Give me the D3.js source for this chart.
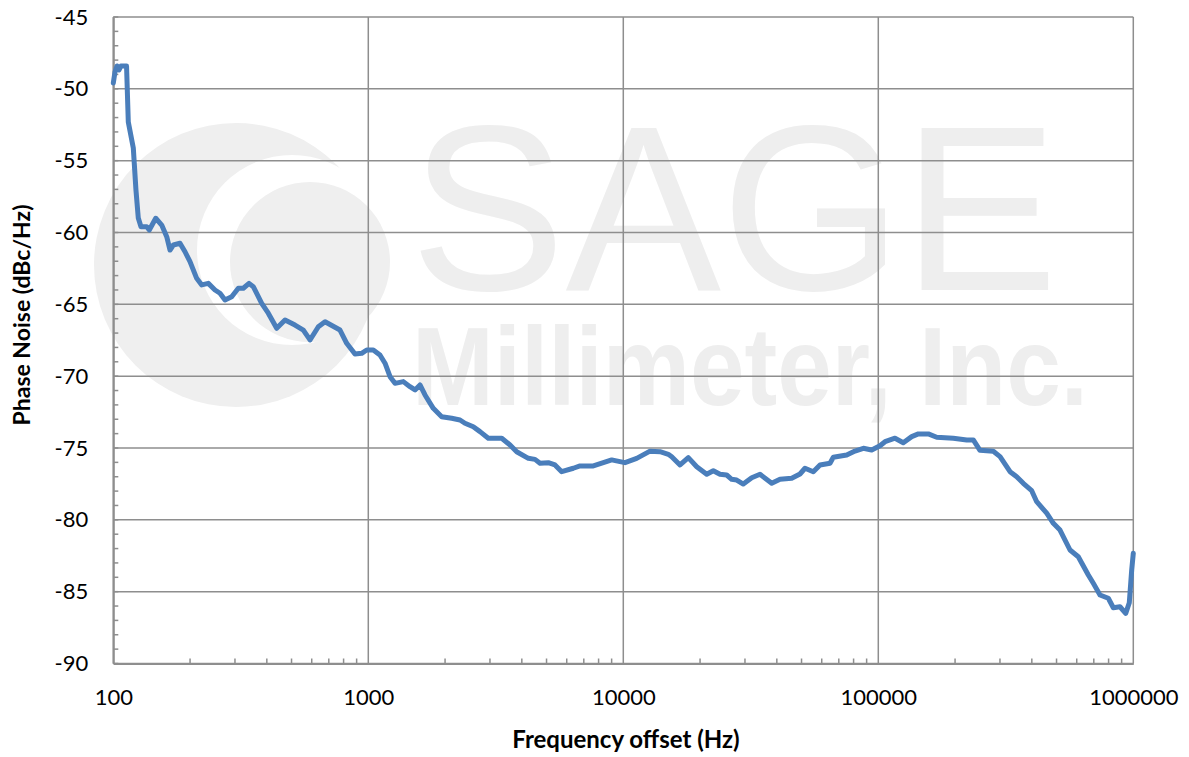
<!DOCTYPE html>
<html>
<head>
<meta charset="utf-8">
<script src="https://cdn.jsdelivr.net/npm/d3@7/dist/d3.min.js"></script>
<style>
  html, body { margin: 0; padding: 0; background: #ffffff; }
  svg { display: block; }
</style>
</head>
<body>
<svg id="chart" width="1189" height="757"></svg>
<script>
// ---- data ----
const freqHz = [100, 101.5, 103.4, 105.3, 107.2, 112.7, 114.5, 119.8, 122.7, 125.3,
  128.4, 135.2, 138.4, 146.7, 154.8, 162.0, 166.9, 172.0, 182.6, 191.1,
  199.9, 212.3, 222.2, 235.8, 250.5, 262.1, 274.2, 291.2, 309.2, 323.5,
  340.6, 354.0, 381.9, 405.3, 437.3, 471.4, 515.9, 556.2, 590.8, 636.9,
  676.6, 774.5, 822.8, 886.7, 941.9, 985.6, 1046, 1111, 1163, 1217,
  1273, 1372, 1457, 1525, 1595, 1669, 1798, 1940, 2123, 2289,
  2394, 2581, 2742, 2955, 3336, 3596, 3819, 4242, 4506, 4714,
  5080, 5397, 5733, 6368, 6765, 7627, 8349, 9005, 9707, 10155,
  11285, 12727, 13929, 15017, 15484, 16690, 17986, 19405, 21236, 22540,
  23945, 25438, 26612, 27840, 29552, 31886, 34361, 38194, 41160, 45750,
  49310, 51590, 55600, 59070, 64660, 66610, 75160, 81030, 87350, 94220,
  101550, 106250, 116290, 125310, 135200, 143550, 157110, 169430, 196900, 222230,
  235800, 250500, 282500, 300200, 328600, 348900, 370300, 399600, 418000, 457500,
  485800, 515900, 564700, 608500, 666200, 697000, 740300, 798000, 835000, 886700,
  933700, 964500, 985600, 1000000];
const phaseNoise = [-49.6, -48.83, -48.41, -48.69, -48.41, -48.41, -52.31, -54.12, -57.04, -58.99,
  -59.60, -59.60, -59.83, -59.01, -59.48, -60.29, -61.22, -60.87, -60.75, -61.34,
  -62.03, -63.19, -63.65, -63.54, -64.00, -64.23, -64.70, -64.47, -63.88, -63.88,
  -63.54, -63.77, -64.93, -65.62, -66.67, -66.09, -66.44, -66.79, -67.48, -66.56,
  -66.21, -66.79, -67.71, -68.46, -68.41, -68.18, -68.18, -68.53, -69.10, -70.04,
  -70.50, -70.38, -70.73, -70.96, -70.61, -71.31, -72.24, -72.82, -72.93, -73.05,
  -73.28, -73.52, -73.86, -74.32, -74.32, -74.79, -75.26, -75.72, -75.79, -76.06,
  -76.02, -76.18, -76.65, -76.41, -76.25, -76.25, -76.02, -75.83, -75.95, -76.02,
  -75.72, -75.22, -75.26, -75.44, -75.61, -76.18, -75.67, -76.30, -76.83, -76.58,
  -76.83, -76.88, -77.18, -77.23, -77.51, -77.07, -76.83, -77.46, -77.18, -77.11,
  -76.81, -76.41, -76.65, -76.18, -76.06, -75.65, -75.49, -75.21, -75.02, -75.14,
  -74.84, -74.56, -74.32, -74.63, -74.21, -74.02, -74.02, -74.25, -74.32, -74.44,
  -74.44, -75.16, -75.23, -75.60, -76.65, -77.00, -77.46, -77.97, -78.74, -79.54,
  -80.24, -80.71, -82.10, -82.57, -83.84, -84.42, -85.23, -85.46, -86.12, -86.05,
  -86.51, -85.77, -83.49, -82.33];
const xTicks = [100, 1000, 10000, 100000, 1000000];
const xTickLabels = ["100", "1000", "10000", "100000", "1000000"];
const yTicks = [-90, -85, -80, -75, -70, -65, -60, -55, -50, -45];
const yTickLabels = ["-90", "-85", "-80", "-75", "-70", "-65", "-60", "-55", "-50", "-45"];
const xTitle = "Frequency offset (Hz)";
const yTitle = "Phase Noise (dBc/Hz)";
const watermarkTop = "SAGE";
const watermarkBottom = "Millimeter, Inc.";

(function () {
  // ---- layout ----
  const svg = d3.select("#chart");
  const pL = 113.3, pR = 1133.3, pT = 17, pB = 663.5;
  const x = d3.scaleLog().domain([100, 1000000]).range([pL, pR]);
  const y = d3.scaleLinear().domain([-90, -45]).range([pB, pT]);
  const gridColor = "#8e8e8e";
  const font = "Lato, 'Open Sans', 'Liberation Sans', sans-serif";

  // ---- watermark ----
  const wm = svg.append("g").attr("class", "watermark");
  wm.append("circle").attr("cx", 236).attr("cy", 265).attr("r", 142).attr("fill", "#efefef");
  wm.append("circle").attr("cx", 292).attr("cy", 250).attr("r", 95).attr("fill", "#ffffff");
  wm.append("circle").attr("cx", 310).attr("cy", 262).attr("r", 80).attr("fill", "#efefef");
  const wt = wm.append("text")
    .attr("font-family", "'Liberation Sans', Arial, sans-serif")
    .attr("fill", "#eeeeee");
  wt.append("tspan").attr("x", 410).attr("y", 290)
    .attr("font-size", 236)
    .attr("textLength", 648).attr("lengthAdjust", "spacingAndGlyphs")
    .text(watermarkTop);
  wt.append("tspan").attr("x", 412).attr("y", 405)
    .attr("font-size", 112).attr("font-weight", "bold")
    .attr("textLength", 676).attr("lengthAdjust", "spacingAndGlyphs")
    .text(watermarkBottom);

  // ---- grid ----
  const grid = svg.append("g");
  grid.selectAll("line.h").data(yTicks).join("line")
    .attr("class", "h")
    .attr("x1", pL).attr("x2", pR)
    .attr("y1", d => y(d)).attr("y2", d => y(d))
    .attr("stroke", gridColor).attr("stroke-width", 1.5);
  grid.selectAll("line.v").data(xTicks).join("line")
    .attr("class", "v")
    .attr("x1", d => x(d)).attr("x2", d => x(d))
    .attr("y1", pT).attr("y2", pB)
    .attr("stroke", gridColor).attr("stroke-width", 1.5);

  // ---- axes ----
  const yMinor = d3.range(-90, -44, 1);
  const xMinor = [];
  [100, 1000, 10000, 100000].forEach(dec => { for (let k = 2; k <= 9; k++) xMinor.push(dec * k); });

  const yAxis = d3.axisLeft(y).tickValues(yTicks).tickSize(0).tickPadding(25)
    .tickFormat((d, i) => yTickLabels[i]);
  const gy = svg.append("g").attr("transform", `translate(${pL},0)`).call(yAxis);
  gy.select(".domain").attr("stroke", gridColor).attr("stroke-width", 2);
  gy.selectAll("text").attr("font-family", font).attr("font-size", 22).attr("fill", "#000");

  svg.append("g").selectAll("line").data(yMinor).join("line")
    .attr("x1", pL).attr("x2", pL + 5)
    .attr("y1", d => y(d)).attr("y2", d => y(d))
    .attr("stroke", gridColor).attr("stroke-width", 1.5);

  const xAxis = d3.axisBottom(x).tickValues(xTicks).tickSize(0).tickPadding(26)
    .tickFormat((d, i) => xTickLabels[i]);
  const gx = svg.append("g").attr("transform", `translate(0,${pB})`).call(xAxis);
  gx.select(".domain").attr("stroke", gridColor).attr("stroke-width", 2);
  gx.selectAll("text").attr("font-family", font).attr("font-size", 22).attr("fill", "#000");

  svg.append("g").selectAll("line").data(xMinor).join("line")
    .attr("x1", d => x(d)).attr("x2", d => x(d))
    .attr("y1", pB).attr("y2", pB - 5)
    .attr("stroke", gridColor).attr("stroke-width", 1.5);

  // ---- titles ----
  svg.append("text").attr("x", 626).attr("y", 748)
    .attr("text-anchor", "middle").attr("font-family", font)
    .attr("font-weight", "bold").attr("font-size", 24).attr("fill", "#000")
    .text(xTitle);
  svg.append("text").attr("transform", `translate(30,${315}) rotate(-90)`)
    .attr("text-anchor", "middle").attr("font-family", font)
    .attr("font-weight", "bold").attr("font-size", 23).attr("fill", "#000")
    .text(yTitle);

  // ---- data line ----
  const pts = freqHz.map((f, i) => [f, phaseNoise[i]]);
  svg.append("path").datum(pts)
    .attr("fill", "none").attr("stroke", "#4a7ebb").attr("stroke-width", 5)
    .attr("stroke-linejoin", "round").attr("stroke-linecap", "round")
    .attr("d", d3.line().x(d => x(d[0])).y(d => y(d[1])));
})();
</script>
</body>
</html>
